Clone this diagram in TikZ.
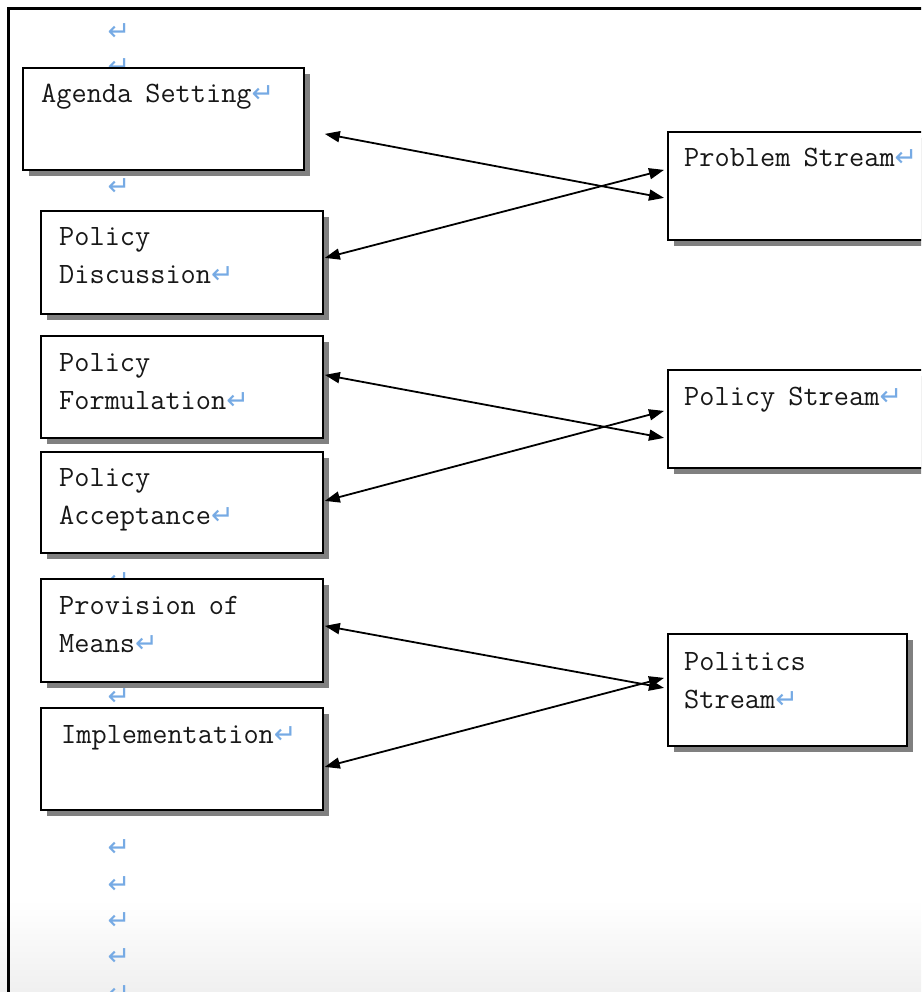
\documentclass[tikz,border=0pt]{standalone}
\usepackage{fontspec}
\usetikzlibrary{shadows,arrows.meta}
\newfontfamily\retfont{DejaVu Sans}
\definecolor{retblue}{RGB}{118,170,228}
\definecolor{inkgray}{RGB}{24,24,24}
\definecolor{shadowgray}{RGB}{128,128,128}
% paragraph mark used after every line of text
\newcommand\retmark{{\color{retblue}\retfont\fontsize{27}{27}\selectfont ↵}}
\newcommand\wgap{\hspace{0.44em}}
\newcommand\boxfont{\fontsize{29.5}{38}\selectfont\ttfamily\addfontfeatures{FakeBold=0.35}}
\tikzset{
  stage/.style={draw=black, line width=1.8pt, fill=white, inner sep=0pt,
    anchor=north west,
    drop shadow={shadow xshift=6pt, shadow yshift=-6pt, fill=shadowgray, opacity=1}},
  boxtext/.style={inner sep=0pt, anchor=base west, text=inkgray, font=\boxfont},
  parmark/.style={inner sep=0pt, text=retblue},
  link/.style={line width=1.8pt, {Triangle[length=15pt,width=11pt]}-{Triangle[length=15pt,width=11pt]}}
}
\begin{document}
\begin{tikzpicture}[x=1pt,y=1pt]
\useasboundingbox (0,0) rectangle (921,-992);
\clip (0,0) rectangle (921,-992);
% page background with a faint fade at the bottom
\fill[white] (0,0) rectangle (921,-992);
\shade[top color=white, bottom color=black!6] (0,-900) rectangle (921,-992);
% page frame
\draw[line width=2.2pt] (8.5,-995) -- (8.5,-8.5) -- (925,-8.5);

% empty-paragraph marks in the left column
\foreach \py [count=\i] in {32,67,187,581,697,848,885,921,957,994}
  \node[parmark] (pm\i) at (119,-\py) {\retmark};

% stages of the policy process
\node[stage, minimum width=281pt, minimum height=102pt] (agenda) at (22,-67) {};
\node[stage, minimum width=282pt, minimum height=103pt] (discuss) at (40,-210) {};
\node[stage, minimum width=282pt, minimum height=102pt] (formul) at (40,-335) {};
\node[stage, minimum width=282pt, minimum height=101pt] (accept) at (40,-451) {};
\node[stage, minimum width=282pt, minimum height=103pt] (means) at (40,-578) {};
\node[stage, minimum width=282pt, minimum height=102pt] (implem) at (40,-707) {};

% the three streams
\node[stage, minimum width=275pt, minimum height=108pt] (problem) at (667,-131) {};
\node[stage, minimum width=275pt, minimum height=98pt] (policy) at (667,-369) {};
\node[stage, minimum width=239pt, minimum height=112pt] (politics) at (667,-633) {};

% labels
\node[boxtext] (agendaT) at ([xshift=19pt,yshift=-36pt]agenda.north west) {Agenda\wgap Setting\retmark};
\node[boxtext] (discussT) at ([xshift=19pt,yshift=-35pt]discuss.north west)
  {\begin{tabular}[t]{@{}l@{}}Policy\\Discussion\retmark\end{tabular}};
\node[boxtext] (formulT) at ([xshift=19pt,yshift=-36pt]formul.north west)
  {\begin{tabular}[t]{@{}l@{}}Policy\\Formulation\retmark\end{tabular}};
\node[boxtext] (acceptT) at ([xshift=19pt,yshift=-35pt]accept.north west)
  {\begin{tabular}[t]{@{}l@{}}Policy\\Acceptance\retmark\end{tabular}};
\node[boxtext] (meansT) at ([xshift=19pt,yshift=-36pt]means.north west)
  {\begin{tabular}[t]{@{}l@{}}Provision\wgap of\\Means\retmark\end{tabular}};
\node[boxtext] (implemT) at ([xshift=21pt,yshift=-36pt]implem.north west) {Implementation\retmark};
\node[boxtext] (problemT) at ([xshift=17pt,yshift=-36pt]problem.north west) {Problem\wgap Stream\retmark};
\node[boxtext] (policyT) at ([xshift=17pt,yshift=-36pt]policy.north west) {Policy\wgap Stream\retmark};
\node[boxtext] (politicsT) at ([xshift=17pt,yshift=-37pt]politics.north west)
  {\begin{tabular}[t]{@{}l@{}}Politics\\Stream\retmark\end{tabular}};

% two-way links between stages and streams
\draw[link] ([xshift=20pt,yshift=-15pt]agenda.east) -- ([xshift=-3pt,yshift=-12pt]problem.west);
\draw[link] ([xshift=1pt,yshift=4.5pt]discuss.east) -- ([xshift=-3pt,yshift=16pt]problem.west);
\draw[link] ([xshift=1pt,yshift=12pt]formul.east) -- ([xshift=-3pt,yshift=-19pt]policy.west);
\draw[link] ([xshift=1pt,yshift=1.5pt]accept.east) -- ([xshift=-3pt,yshift=8pt]policy.west);
\draw[link] ([xshift=1pt,yshift=4.5pt]means.east) -- ([xshift=-3pt,yshift=2pt]politics.west);
\draw[link] ([xshift=1pt,yshift=-8pt]implem.east) -- ([xshift=-3pt,yshift=12pt]politics.west);
\end{tikzpicture}
\end{document}
